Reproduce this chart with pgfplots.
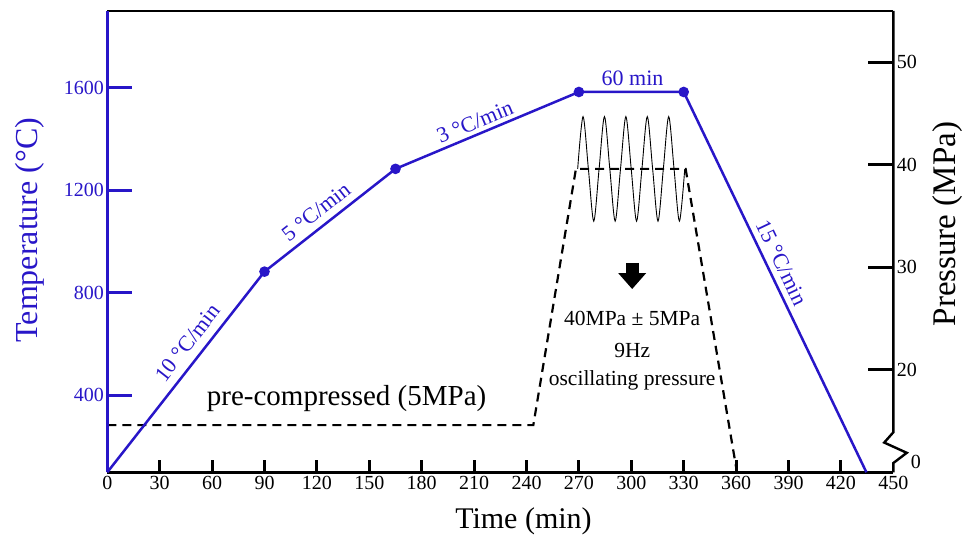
\documentclass[border=0pt]{standalone}
\usepackage{pgfplots}
\pgfplotsset{compat=1.18}
\usepackage{fontspec}
\setmainfont{Liberation Serif}
\usetikzlibrary{arrows.meta}
\definecolor{tblue}{RGB}{40,22,200}
\begin{document}
\begin{tikzpicture}
\pgfplotsset{
  base/.style={
    scale only axis, width=786pt, height=461.3pt,
    xmin=0, xmax=450, clip=false,
    /pgf/number format/assume math mode=true,
    /pgf/number format/1000 sep={},
    tick label style={font=\fontsize{20}{20}\selectfont},
    tick align=inside,
    major tick length=0pt,
  }
}
% bottom x axis
\begin{axis}[base, ymin=100, ymax=1900,
  axis x line*=bottom, axis y line=none,
  x axis line style={-, black, line width=2.4pt},
  xtick={0,30,...,450},
  xlabel={Time (min)},
  xlabel style={font=\fontsize{30}{30}\selectfont, at={(axis description cs:0.5295,-0.1056)}, anchor=center}]
\coordinate (O) at (rel axis cs:0,0);
\pgfplotsinvokeforeach{30,60,...,420}{\draw[black, line width=3pt] (axis cs:#1,100) -- ++(0pt,12pt);}
\end{axis}
% pressure axis (right)
\begin{axis}[base, ymin=10, ymax=55,
  axis y line*=right, axis x line*=top, xtick=\empty,
  x axis line style={-, black, line width=2.4pt},
  y axis line style={draw=none},
  ytick={20,30,40,50},
  ylabel={Pressure (MPa)},
  ylabel style={font=\fontsize{33}{33}\selectfont, at={(axis description cs:1.0696,0.538)}, anchor=center}]
\draw[line width=2.4pt, black] (axis cs:450,55) -- (axis cs:450,13.9) -- (axis cs:444.8,12.9) -- (axis cs:457.7,11.9) -- (axis cs:450,10.9) -- (axis cs:450,10);
\pgfplotsinvokeforeach{20,30,40,50}{\draw[black, line width=3pt] (axis cs:450,#1) -- ++(-25pt,0pt);}
\node[anchor=west, font=\fontsize{20}{20}\selectfont, xshift=14pt] at (axis cs:450,11.0) {0};
\addplot[black, line width=2.2pt, dash pattern=on 9pt off 6pt] coordinates {
  (0,14.6) (243.9,14.6) (268.3,39.6) (331.1,39.6) (360.5,10)};
\addplot[black, line width=0.9pt, smooth] coordinates {
  (269.30,39.6) (272.37,44.7) (275.43,39.6) (278.50,34.5)
  (281.56,39.6) (284.63,44.7) (287.69,39.6) (290.76,34.5)
  (293.82,39.6) (296.89,44.7) (299.95,39.6) (303.02,34.5)
  (306.08,39.6) (309.15,44.7) (312.21,39.6) (315.28,34.5)
  (318.34,39.6) (321.41,44.7) (324.47,39.6) (327.54,34.5)
  (330.60,39.6)};
\end{axis}
% temperature axis (left)
\begin{axis}[base, ymin=100, ymax=1900,
  axis y line*=left, axis x line=none,
  y axis line style={-, tblue, line width=2.6pt},
  ytick={400,800,1200,1600},
  yticklabel style={text=tblue},
  ylabel={Temperature (°C)},
  ylabel style={font=\fontsize{32}{32}\selectfont, at={(axis description cs:-0.098,0.525)}, anchor=center, text=tblue}]
\pgfplotsinvokeforeach{400,800,1200,1600}{\draw[tblue, line width=3pt] (axis cs:0,#1) -- ++(25pt,0pt);}
\addplot[tblue, line width=2.5pt, mark=*, mark size=4pt, mark options={solid, fill=tblue}, mark indices={2,3,4,5}] coordinates {
  (0,100) (90,883) (165,1284) (270,1584) (330,1584) (434.6,100)};
\node[tblue, font=\fontsize{22}{22}\selectfont, rotate=52] at (axis cs:45.9,606) {10 °C/min};
\node[tblue, font=\fontsize{22}{22}\selectfont, rotate=38] at (axis cs:119.5,1116) {5 °C/min};
\node[tblue, font=\fontsize{22}{22}\selectfont, rotate=22.7] at (axis cs:210.5,1468) {3 °C/min};
\node[tblue, font=\fontsize{22}{22}\selectfont] at (axis cs:300.7,1638) {60 min};
\node[tblue, font=\fontsize{22}{22}\selectfont, rotate=-64.6] at (axis cs:386.3,917) {15 °C/min};
\node[font=\fontsize{29}{29}\selectfont] at (axis cs:137,386) {pre-compressed (5MPa)};
\draw[-{Triangle[width=27pt,length=16pt]}, line width=13pt] (axis cs:300.5,917) -- (axis cs:300.5,815);
\node[font=\fontsize{21.5}{22}\selectfont] at (axis cs:300.5,701) {40MPa ± 5MPa};
\node[font=\fontsize{21.5}{22}\selectfont] at (axis cs:300.5,577) {9Hz};
\node[font=\fontsize{21.5}{22}\selectfont] at (axis cs:300.5,460) {oscillating pressure};
\end{axis}
\pgfresetboundingbox
\path (O) ++(-107.3pt,-67.7pt) rectangle ++(968pt,540pt);
\end{tikzpicture}
\end{document}
